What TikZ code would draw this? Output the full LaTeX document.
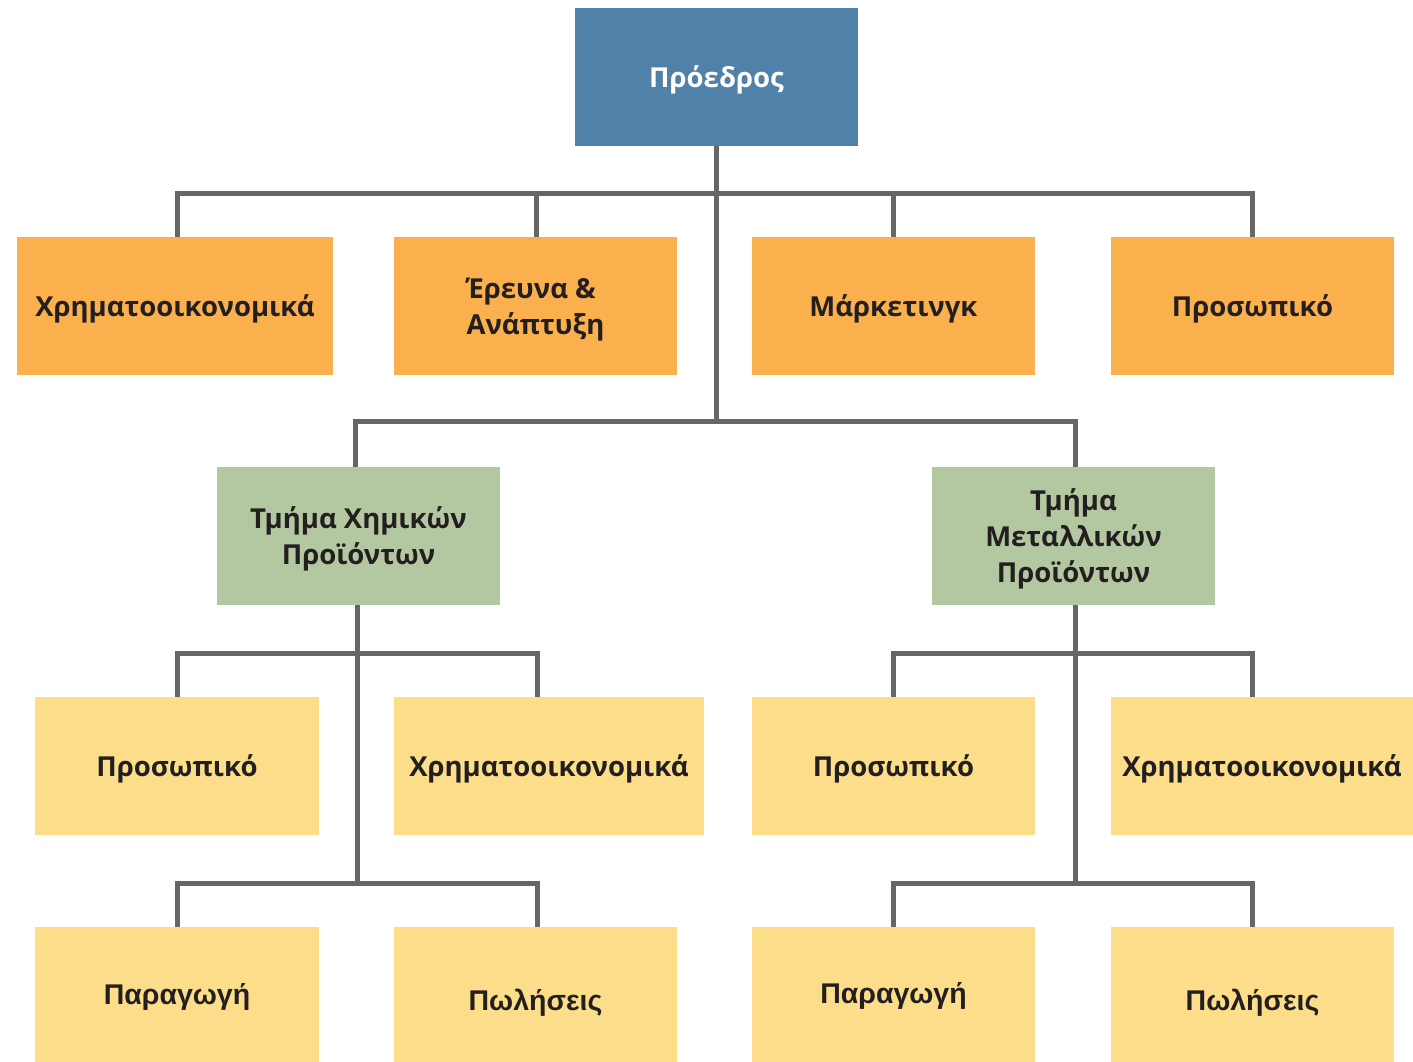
\documentclass[tikz,border=0pt]{standalone}
\usepackage{fontspec}
\setmainfont{Open Sans}
\newfontfamily\arialb{Liberation Sans}[BoldFont={Liberation Sans Bold}]
\definecolor{presblue}{HTML}{4F81A9}
\definecolor{deporange}{HTML}{FBB04E}
\definecolor{divgreen}{HTML}{B3C7A0}
\definecolor{unityellow}{HTML}{FCDD8A}
\definecolor{linkgray}{HTML}{666666}
\definecolor{txtdark}{HTML}{231F20}
\begin{document}
\begin{tikzpicture}[x=1pt,y=-1pt,
  orgbox/.style={rectangle, inner sep=0pt, minimum height=138pt, text=txtdark,
    text depth=0pt, font=\fontsize{27.5}{36}\selectfont\bfseries},
  presbox/.style={orgbox, fill=presblue, text=white, minimum width=283pt},
  depbox/.style={orgbox, fill=deporange},
  divbox/.style={orgbox, fill=divgreen, minimum width=283pt},
  unitbox/.style={orgbox, fill=unityellow},
  lowbox/.style={rectangle, inner sep=0pt, fill=unityellow, minimum height=135pt},
  lowtext/.style={font=\arialb\fontsize{28.5}{36}\selectfont\bfseries, text=txtdark},
  link/.style={draw=linkgray, line width=5pt}]
\useasboundingbox (0,0) rectangle (1413,1062);
\fill[white] (0,0) rectangle (1413,1062);

% connectors (drawn first, under the boxes)
\coordinate (j1) at (716,193);
\coordinate (j2) at (716,421);
\coordinate (pb) at (716,146);
\coordinate (o1t) at (177,237);
\coordinate (o2t) at (536,237);
\coordinate (o3t) at (893,237);
\coordinate (o4t) at (1252,237);
\coordinate (g1t) at (355,467);
\coordinate (g2t) at (1075,467);
\coordinate (g1b) at (357,605);
\coordinate (g2b) at (1075,605);
\coordinate (k1) at (357,653);
\coordinate (k2) at (357,883);
\coordinate (k3) at (1075,653);
\coordinate (k4) at (1075,883);
\coordinate (y1t) at (177,697);
\coordinate (y2t) at (537,697);
\coordinate (y3t) at (893,697);
\coordinate (y4t) at (1252,697);
\coordinate (b1t) at (177,927);
\coordinate (b2t) at (537,927);
\coordinate (b3t) at (893,927);
\coordinate (b4t) at (1252,927);

\draw[link] (pb) -- (j1) -- (j2);
\draw[link] (o1t) |- (j1) -| (o4t);
\draw[link] (o2t) |- (j1);
\draw[link] (o3t) |- (j1);
\draw[link] (g1t) |- (j2) -| (g2t);
\draw[link] (g1b) -- (k1) -- (k2);
\draw[link] (y1t) |- (k1) -| (y2t);
\draw[link] (b1t) |- (k2) -| (b2t);
\draw[link] (g2b) -- (k3) -- (k4);
\draw[link] (y3t) |- (k3) -| (y4t);
\draw[link] (b3t) |- (k4) -| (b4t);

% boxes
\node[presbox] (pres) at (716.5,77) {Πρόεδρος};

\node[depbox, minimum width=316pt] (o1) at (175,306) {Χρηματοοικονομικά};
\node[depbox, minimum width=283pt, align=left] (o2) at (535.5,306) {Έρευνα \&\\Ανάπτυξη};
\node[depbox, minimum width=283pt] (o3) at (893.5,306) {Μάρκετινγκ};
\node[depbox, minimum width=283pt] (o4) at (1252.5,306) {Προσωπικό};

\node[divbox, align=center] (g1) at (358.5,536) {Τμήμα Χημικών\\Προϊόντων};
\node[divbox, align=center] (g2) at (1073.5,536) {Τμήμα\\Μεταλλικών\\Προϊόντων};

\node[unitbox, minimum width=284pt] (y1) at (177,766) {Προσωπικό};
\node[unitbox, minimum width=310pt] (y2) at (549,766) {Χρηματοοικονομικά};
\node[unitbox, minimum width=283pt] (y3) at (893.5,766) {Προσωπικό};
\node[unitbox, minimum width=302pt] (y4) at (1262,766) {Χρηματοοικονομικά};

\node[lowbox, minimum width=284pt] (b1) at (177,994.5) {};
\node[lowbox, minimum width=283pt] (b2) at (535.5,994.5) {};
\node[lowbox, minimum width=283pt] (b3) at (893.5,994.5) {};
\node[lowbox, minimum width=283pt] (b4) at (1252.5,994.5) {};
\node[lowtext] (b1x) at (177,997) {Παραγωγή};
\node[lowtext] (b2x) at (535.5,1003) {Πωλήσεις};
\node[lowtext] (b3x) at (893.5,996) {Παραγωγή};
\node[lowtext] (b4x) at (1252.5,1003) {Πωλήσεις};
\end{tikzpicture}
\end{document}
